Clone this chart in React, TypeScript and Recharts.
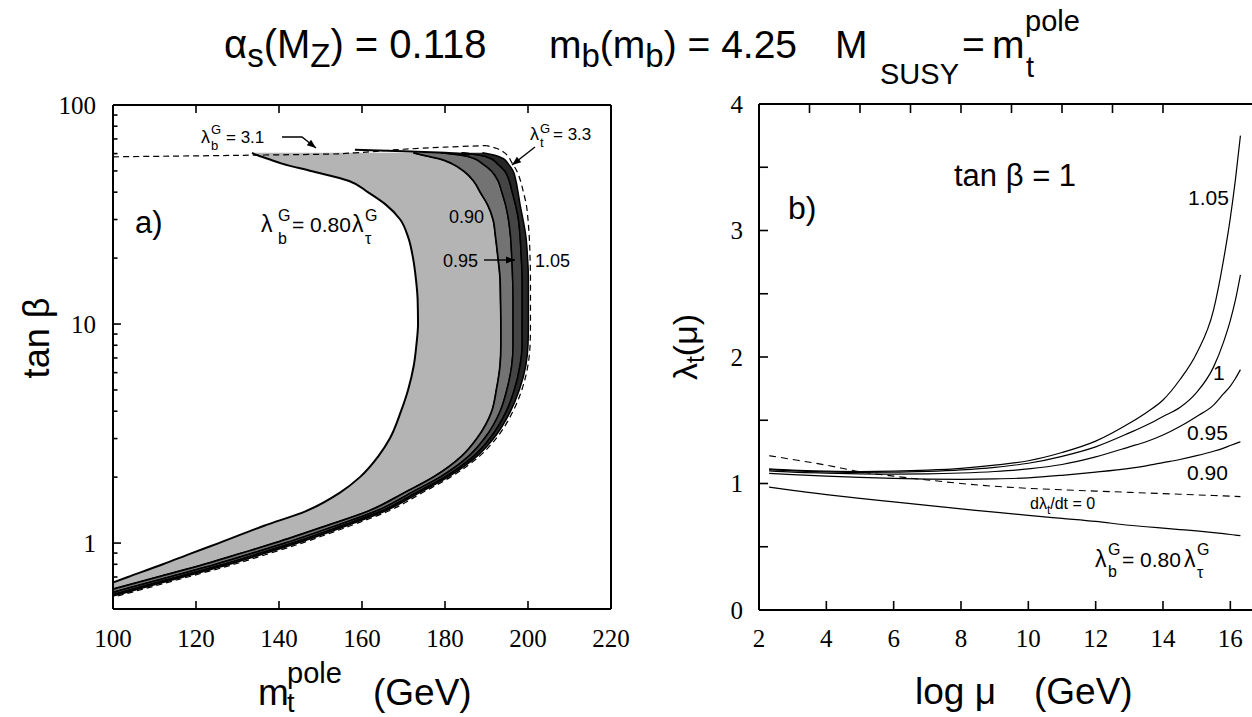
import { ComposedChart, Area, Line, XAxis, YAxis } from 'recharts'

// ---------- panel a) : tan beta vs m_t^pole ----------
// each contour is read as m_t (GeV) at a given tan beta
const tanBeta = [0.5, 0.6, 0.7, 0.8, 0.9, 1, 1.2, 1.4, 1.7, 2, 2.5, 3, 4, 5, 6.5, 8, 10, 13, 16, 20, 25, 30, 35, 40, 45, 50, 54, 57, 59, 60.5]
const edge080 = [82.9, 94, 103.6, 112, 119, 125.5, 136.4, 146.5, 154.7, 159.5, 164, 166.7, 169.4, 171.1, 172.5, 173.1, 173.5, 173.4, 173, 172.3, 171.1, 169.2, 165.8, 161.4, 156.9, 147.7, 140.7, 137.1, 134.7, 133.5]
const edge090 = [82.5, 97.9, 110.9, 122.1, 131.1, 139, 151.5, 161.6, 170.3, 177.2, 184.1, 187.7, 191.3, 192.4, 193.3, 193.5, 193.5, 193.4, 193.3, 192.8, 192.2, 191.6, 190.3, 188.5, 186.9, 184.5, 181.7, 178.5, 174.9, 172.4]
const edge095 = [85.2, 100.6, 113.6, 124.8, 133.7, 141.5, 153.7, 163.4, 171.9, 178.8, 185.8, 189.5, 193.3, 194.9, 196.1, 196.4, 196.4, 196.4, 196.3, 196.1, 195.8, 195.3, 194.6, 193.7, 192.8, 191.2, 189, 187, 184, 179]
const edge100 = [87.2, 102.6, 115.6, 126.8, 135.6, 143.3, 155.2, 164.7, 173.1, 179.9, 187, 190.8, 194.8, 196.7, 198.1, 198.6, 198.6, 198.6, 198.6, 198.4, 198.1, 197.7, 197, 196.2, 195.5, 194.4, 192.6, 191, 188.5, 184]
const edge105 = [88.5, 103.9, 116.9, 128.1, 136.9, 144.5, 156.3, 165.6, 173.9, 180.7, 187.8, 191.7, 195.8, 197.9, 199.5, 200, 200.1, 200.1, 200.1, 199.9, 199.5, 198.8, 198.1, 197.6, 197.1, 196.4, 195.2, 194, 192, 189]

// lambda_t^G = 3.3 (dashed)
const ltTanBeta = [0.5, 0.6, 0.7, 0.8, 0.9, 1, 1.2, 1.4, 1.7, 2, 2.5, 3, 4, 5, 6.5, 8, 10, 13, 16, 20, 25, 30, 35, 40, 45, 50, 55, 59, 61.2, 63.5, 65.3]
const ltMass = [89.5, 105, 118, 129.2, 138, 145.5, 157.2, 166.4, 174.6, 181.3, 188.4, 192.3, 196.4, 198.5, 200, 200.5, 200.6, 200.6, 200.6, 200.5, 200.3, 200, 199.6, 198.9, 198.2, 197.3, 196, 195, 194, 192.3, 190]
// lambda_b^G = 3.1 (dashed)
const lbTanBeta = [58, 58.9, 59.7, 60.5, 62.8, 64.2, 65.3]
const lbMass = [100, 130, 152.3, 158.3, 170, 180, 190]
// upper rim of the dark bands
const rimTanBeta = [59.5, 60.5, 61.5, 62.4]
const rimMass = [186, 180, 170, 158.3]

const massTicks = [100, 120, 140, 160, 180, 200, 220]
const tanBetaTicks = [0.6, 0.7, 0.8, 0.9, 1, 2, 3, 4, 5, 6, 7, 8, 9, 10, 20, 30, 40, 50, 60, 70, 80, 90, 100]
const tanBetaMajor = [1, 10, 100]

// ---------- panel b) : lambda_t(mu) vs log mu ----------
const logMu = [2.3, 3, 4, 5, 6, 7, 8, 9, 10, 11, 12, 13, 13.5, 14, 14.5, 15, 15.5, 15.8, 16, 16.15, 16.3]
const yuk105 = [1.115, 1.105, 1.098, 1.095, 1.098, 1.106, 1.12, 1.145, 1.18, 1.245, 1.335, 1.476, 1.56, 1.66, 1.82, 2.03, 2.37, 2.77, 3.1, 3.4, 3.75]
const yuk100 = [1.11, 1.1, 1.092, 1.088, 1.089, 1.096, 1.108, 1.128, 1.16, 1.215, 1.29, 1.4, 1.46, 1.53, 1.6, 1.72, 1.92, 2.12, 2.29, 2.45, 2.65]
const yuk095 = [1.1, 1.09, 1.082, 1.076, 1.074, 1.076, 1.083, 1.095, 1.115, 1.15, 1.21, 1.29, 1.33, 1.383, 1.45, 1.53, 1.62, 1.71, 1.77, 1.83, 1.9]
const yuk090 = [1.08, 1.07, 1.058, 1.048, 1.04, 1.035, 1.033, 1.036, 1.045, 1.065, 1.09, 1.12, 1.14, 1.165, 1.19, 1.22, 1.255, 1.28, 1.3, 1.315, 1.33]
const yukFixed = [1.22, 1.19, 1.145, 1.093, 1.058, 1.028, 1, 0.978, 0.962, 0.95, 0.94, 0.93, 0.925, 0.92, 0.915, 0.91, 0.905, 0.902, 0.9, 0.898, 0.896]
const yuk080 = [0.972, 0.945, 0.912, 0.882, 0.855, 0.827, 0.8, 0.773, 0.748, 0.724, 0.7, 0.67, 0.658, 0.647, 0.636, 0.625, 0.612, 0.603, 0.597, 0.592, 0.588]

const muTicks = [2, 4, 6, 8, 10, 12, 14, 16]
const lambdaTicks = [0, 0.5, 1, 1.5, 2, 2.5, 3, 3.5, 4]
const lambdaMajor = [0, 1, 2, 3, 4]

const bandRows = tanBeta.map((tb, i) => ({
  tb,
  e080: edge080[i],
  e090: edge090[i],
  e095: edge095[i],
  e100: edge100[i],
  e105: edge105[i],
}))
const ltRows = ltTanBeta.map((tb, i) => ({ tb, m: ltMass[i] }))
const lbRows = lbTanBeta.map((tb, i) => ({ tb, m: lbMass[i] }))
const rimRows = rimTanBeta.map((tb, i) => ({ tb, m: rimMass[i] }))

const muRows = logMu.map((lm, i) => ({
  lm,
  y105: yuk105[i],
  y100: yuk100[i],
  y095: yuk095[i],
  y090: yuk090[i],
  yfix: yukFixed[i],
  y080: yuk080[i],
}))

const SANS = '"Liberation Sans", Arial, Helvetica, sans-serif'
const SERIF = '"Liberation Serif", "Times New Roman", serif'
const frame = { stroke: '#000', strokeWidth: 2 }

type Side = 'left' | 'right' | 'top' | 'bottom'
interface TickOpts {
  minorLen?: number
  major?: number[]
  label?: boolean
  gap?: number
}

// ticks point into the frame; labels only on major values
const makeTick = (side: Side, len: number, opts: TickOpts = {}) => (props: any) => {
  const { x, y, payload } = props
  const v: number = payload.value
  const isMajor = !opts.major || opts.major.some((m) => Math.abs(m - v) < 1e-9)
  const l = isMajor ? len : opts.minorLen ?? len
  const x2 = side === 'left' ? x + l : side === 'right' ? x - l : x
  const y2 = side === 'top' ? y + l : side === 'bottom' ? y - l : y
  const showLabel = opts.label && isMajor
  return (
    <g>
      <line x1={x} y1={y} x2={x2} y2={y2} stroke="#000" strokeWidth={1.6} />
      {showLabel && side === 'left' && (
        <text x={x - (opts.gap ?? 16)} y={y + 8.5} textAnchor="end" fontFamily={SERIF} fontSize={25} fill="#000">
          {v}
        </text>
      )}
      {showLabel && side === 'bottom' && (
        <text x={x} y={y + (opts.gap ?? 38)} textAnchor="middle" fontFamily={SERIF} fontSize={25} fill="#000">
          {v}
        </text>
      )}
    </g>
  )
}

const Arrow = ({ pts }: { pts: [number, number][] }) => {
  const [x1, y1] = pts[pts.length - 2]
  const [x2, y2] = pts[pts.length - 1]
  const a = Math.atan2(y2 - y1, x2 - x1)
  const L = 9
  const W = 3.5
  const bx = x2 - L * Math.cos(a)
  const by = y2 - L * Math.sin(a)
  const head = `${x2},${y2} ${bx - W * Math.sin(a)},${by + W * Math.cos(a)} ${bx + W * Math.sin(a)},${by - W * Math.cos(a)}`
  return (
    <g>
      <polyline points={pts.map((p) => p.join(',')).join(' ')} fill="none" stroke="#000" strokeWidth={1.4} />
      <polygon points={head} fill="#000" />
    </g>
  )
}

const PanelA = () => (
  <ComposedChart layout="vertical" width={640} height={657} data={bandRows} margin={{ top: 0, right: 0, bottom: 0, left: 0 }}>
    <XAxis
      type="number"
      domain={[100, 220]}
      allowDataOverflow
      ticks={massTicks}
      interval={0}
      height={108}
      axisLine={frame}
      tickLine={false}
      tickSize={0}
      tickMargin={0}
      tick={makeTick('bottom', 8, { label: true, gap: 38 })}
    />
    <XAxis
      xAxisId="top"
      orientation="top"
      type="number"
      domain={[100, 220]}
      allowDataOverflow
      ticks={massTicks}
      interval={0}
      height={45}
      axisLine={frame}
      tickLine={false}
      tickSize={0}
      tickMargin={0}
      tick={makeTick('top', 8)}
    />
    <YAxis
      type="number"
      dataKey="tb"
      scale="log"
      reversed
      domain={[0.5, 100]}
      allowDataOverflow
      ticks={tanBetaTicks}
      interval={0}
      width={113}
      axisLine={frame}
      tickLine={false}
      tickSize={0}
      tickMargin={0}
      tick={makeTick('left', 8, { minorLen: 4.5, major: tanBetaMajor, label: true, gap: 17 })}
    />
    <YAxis
      yAxisId="right"
      orientation="right"
      type="number"
      scale="log"
      reversed
      domain={[0.5, 100]}
      allowDataOverflow
      ticks={tanBetaTicks}
      interval={0}
      width={29}
      axisLine={frame}
      tickLine={false}
      tickSize={0}
      tickMargin={0}
      tick={makeTick('right', 8, { minorLen: 4.5, major: tanBetaMajor })}
    />
    <Area
      type="monotone"
      dataKey={(r: any) => [r.e080, r.e090]}
      fill="#b4b4b4"
      fillOpacity={1}
      stroke="#000"
      strokeWidth={2}
      isAnimationActive={false}
    />
    <Area
      type="monotone"
      dataKey={(r: any) => [r.e090, r.e095]}
      fill="#737373"
      fillOpacity={1}
      stroke="#000"
      strokeWidth={1.5}
      isAnimationActive={false}
    />
    <Area
      type="monotone"
      dataKey={(r: any) => [r.e095, r.e100]}
      fill="#454545"
      fillOpacity={1}
      stroke="#000"
      strokeWidth={1.5}
      isAnimationActive={false}
    />
    <Area
      type="monotone"
      dataKey={(r: any) => [r.e100, r.e105]}
      fill="#262626"
      fillOpacity={1}
      stroke="#000"
      strokeWidth={1.5}
      isAnimationActive={false}
    />
    <Line data={rimRows} dataKey="m" type="monotone" stroke="#000" strokeWidth={2} dot={false} activeDot={false} isAnimationActive={false} />
    <Line
      data={lbRows}
      dataKey="m"
      type="monotone"
      stroke="#000"
      strokeWidth={1.2}
      strokeDasharray="6 4"
      dot={false}
      activeDot={false}
      isAnimationActive={false}
    />
    <Line
      data={ltRows}
      dataKey="m"
      type="monotone"
      stroke="#000"
      strokeWidth={1.2}
      strokeDasharray="6 4"
      dot={false}
      activeDot={false}
      isAnimationActive={false}
    />
  </ComposedChart>
)

const PanelB = () => (
  <ComposedChart width={634} height={657} data={muRows} margin={{ top: 0, right: 10, bottom: 0, left: 0 }}>
    <XAxis
      type="number"
      dataKey="lm"
      domain={[2, 17]}
      allowDataOverflow
      ticks={muTicks}
      interval={0}
      height={107}
      axisLine={frame}
      tickLine={false}
      tickSize={0}
      tickMargin={0}
      tick={makeTick('bottom', 9, { label: true, gap: 37 })}
    />
    <XAxis
      xAxisId="top"
      orientation="top"
      type="number"
      domain={[2, 17]}
      allowDataOverflow
      ticks={muTicks}
      interval={0}
      height={44}
      axisLine={frame}
      tickLine={false}
      tickSize={0}
      tickMargin={0}
      tick={makeTick('top', 9)}
    />
    <YAxis
      type="number"
      domain={[0, 4]}
      allowDataOverflow
      ticks={lambdaTicks}
      interval={0}
      width={119}
      axisLine={frame}
      tickLine={false}
      tickSize={0}
      tickMargin={0}
      tick={makeTick('left', 9, { major: lambdaMajor, minorLen: 9, label: true, gap: 16 })}
    />
    <Line dataKey="y105" type="monotone" stroke="#000" strokeWidth={1.2} dot={false} activeDot={false} isAnimationActive={false} />
    <Line dataKey="y100" type="monotone" stroke="#000" strokeWidth={1.2} dot={false} activeDot={false} isAnimationActive={false} />
    <Line dataKey="y095" type="monotone" stroke="#000" strokeWidth={1.2} dot={false} activeDot={false} isAnimationActive={false} />
    <Line dataKey="y090" type="monotone" stroke="#000" strokeWidth={1.2} dot={false} activeDot={false} isAnimationActive={false} />
    <Line
      dataKey="yfix"
      type="monotone"
      stroke="#000"
      strokeWidth={1.1}
      strokeDasharray="7 5"
      dot={false}
      activeDot={false}
      isAnimationActive={false}
    />
    <Line dataKey="y080" type="monotone" stroke="#000" strokeWidth={1.2} dot={false} activeDot={false} isAnimationActive={false} />
  </ComposedChart>
)

const Labels = () => (
  <svg width={1252} height={717} style={{ position: 'absolute', left: 0, top: 0, pointerEvents: 'none' }} fontFamily={SANS} fill="#000">
    {/* title */}
    <text x={224} y={58} fontSize={40}>
      α<tspan dy={9} fontSize={33}>s</tspan>
      <tspan dy={-9}>(M</tspan>
      <tspan dy={9} fontSize={33}>Z</tspan>
      <tspan dy={-9}>) = 0.118</tspan>
    </text>
    <text x={549} y={58} fontSize={39}>
      m<tspan dy={9} fontSize={33}>b</tspan>
      <tspan dy={-9}>(m</tspan>
      <tspan dy={9} fontSize={33}>b</tspan>
      <tspan dy={-9}>) = 4.25</tspan>
    </text>
    <text x={835} y={58} fontSize={39}>M</text>
    <text x={880} y={84} fontSize={29}>SUSY</text>
    <text x={962} y={58} fontSize={39}>=</text>
    <text x={992} y={58} fontSize={39}>m</text>
    <text x={1026} y={77} fontSize={29}>t</text>
    <text x={1025} y={31} fontSize={29}>pole</text>

    {/* panel a */}
    <text x={135} y={233} fontSize={31}>a)</text>
    <text x={201} y={143} fontSize={18}>λ</text>
    <text x={211} y={150} fontSize={13}>b</text>
    <text x={211} y={134} fontSize={13}>G</text>
    <text x={226} y={143} fontSize={17}>= 3.1</text>
    <Arrow pts={[[282, 137], [302, 137], [316, 148]]} />
    <text x={530} y={140} fontSize={18}>λ</text>
    <text x={540} y={147} fontSize={13}>t</text>
    <text x={540} y={133} fontSize={13}>G</text>
    <text x={553} y={140} fontSize={17}>= 3.3</text>
    <Arrow pts={[[535, 147], [512, 165]]} />
    <text x={261} y={232} fontSize={23}>λ</text>
    <text x={278} y={221} fontSize={16}>G</text>
    <text x={278} y={244} fontSize={16}>b</text>
    <text x={292} y={232} fontSize={21}>= 0.80</text>
    <text x={352} y={232} fontSize={23}>λ</text>
    <text x={365} y={221} fontSize={16}>G</text>
    <text x={365} y={244} fontSize={16}>τ</text>
    <text x={449} y={223} fontSize={18}>0.90</text>
    <text x={443} y={267} fontSize={18}>0.95</text>
    <Arrow pts={[[484, 260], [515, 260]]} />
    <text x={535} y={267} fontSize={18}>1.05</text>
    <text transform="translate(49,338) rotate(-90)" textAnchor="middle" fontSize={36}>
      tan β
    </text>
    <text x={258} y={705} fontSize={37}>m</text>
    <text x={287} y={712} fontSize={27}>t</text>
    <text x={287} y={683} fontSize={29}>pole</text>
    <text x={373} y={705} fontSize={37}>(GeV)</text>

    {/* panel b */}
    <text x={788} y={219} fontSize={32}>b)</text>
    <text x={954} y={186} fontSize={31}>tan β = 1</text>
    <text x={1188} y={205} fontSize={21}>1.05</text>
    <text x={1213} y={380} fontSize={21}>1</text>
    <text x={1187} y={440} fontSize={21}>0.95</text>
    <text x={1187} y={480} fontSize={21}>0.90</text>
    <text x={1030} y={509} fontSize={16}>
      dλ<tspan dy={5} fontSize={12}>t</tspan>
      <tspan dy={-5}>/dt = 0</tspan>
    </text>
    <text x={1095} y={567} fontSize={23}>λ</text>
    <text x={1108} y={555} fontSize={16}>G</text>
    <text x={1108} y={577} fontSize={16}>b</text>
    <text x={1122} y={567} fontSize={21}>= 0.80</text>
    <text x={1184} y={567} fontSize={23}>λ</text>
    <text x={1197} y={555} fontSize={16}>G</text>
    <text x={1197} y={578} fontSize={16}>τ</text>
    <text transform="translate(697,347) rotate(-90)" textAnchor="middle" fontSize={34}>
      λ<tspan dy={7} fontSize={25}>t</tspan>
      <tspan dy={-7}>(μ)</tspan>
    </text>
    <text x={915} y={704} fontSize={37}>log μ</text>
    <text x={1034} y={704} fontSize={37}>(GeV)</text>
  </svg>
)

export default function App() {
  return (
    <div style={{ position: 'fixed', left: 0, top: 0, width: 1252, height: 717, overflow: 'hidden', background: '#fff' }}>
      <div style={{ position: 'absolute', left: 0, top: 60 }}>
        <PanelA />
      </div>
      <div style={{ position: 'absolute', left: 640, top: 60 }}>
        <PanelB />
      </div>
      <Labels />
    </div>
  )
}
